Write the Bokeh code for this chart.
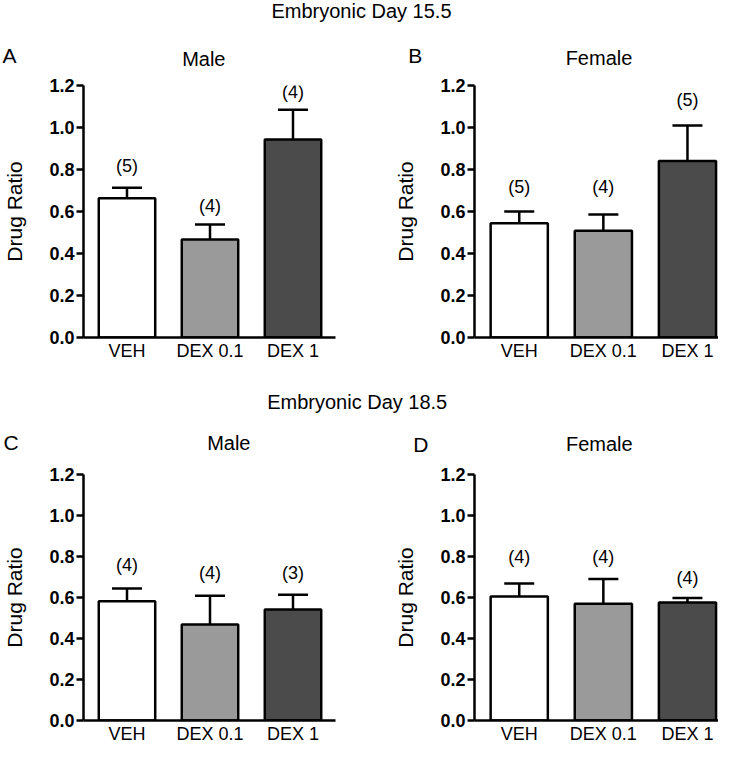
from bokeh.plotting import figure
from bokeh.models import (Range1d, FixedTicker, Whisker, TeeHead,
                          ColumnDataSource, PrintfTickFormatter)
from bokeh.layouts import column, row
from bokeh.embed import file_html
from bokeh.resources import INLINE
from bokeh.core.properties import value

# ---------------- data ----------------
groups = ["VEH", "DEX 0.1", "DEX 1"]
y_ticks = [0.0, 0.2, 0.4, 0.6, 0.8, 1.0, 1.2]

e155_male_mean = [0.663, 0.467, 0.943]
e155_male_sem = [0.050, 0.071, 0.141]
e155_male_n = [5, 4, 4]

e155_female_mean = [0.544, 0.508, 0.840]
e155_female_sem = [0.056, 0.078, 0.170]
e155_female_n = [5, 4, 5]

e185_male_mean = [0.582, 0.468, 0.541]
e185_male_sem = [0.062, 0.140, 0.072]
e185_male_n = [4, 4, 3]

e185_female_mean = [0.605, 0.570, 0.576]
e185_female_sem = [0.063, 0.120, 0.021]
e185_female_n = [4, 4, 4]

# ---------------- style / layout ----------------
FONT = "Liberation Sans"
bar_colors = ["#ffffff", "#9a9a9a", "#4b4b4b"]
LW = 2.5
TEXT_BASE = "middle"


def make_panel(mean, sem, n, n_label_y, left, height, b_top, b_bottom):
    if left:
        width, b_left, b_right, xr = 359, 80, 24, (-0.524, 2.512)
    else:
        width, b_left, b_right, xr = 359, 115, 0, (-0.532, 2.369)
    p = figure(width=width, height=height, x_range=Range1d(*xr),
               y_range=Range1d(0, 1.2), output_backend="svg",
               toolbar_location=None, min_border_left=b_left,
               min_border_right=b_right, min_border_top=b_top,
               min_border_bottom=b_bottom)
    p.outline_line_color = None
    p.grid.visible = False
    p.background_fill_color = "white"
    p.border_fill_color = "white"

    xs = list(range(len(groups)))
    src = ColumnDataSource(dict(
        x=xs, top=mean, upper=[m + s for m, s in zip(mean, sem)],
        color=bar_colors, lab=["(%d)" % k for k in n], ly=n_label_y))

    w = Whisker(source=src, base="x", lower="top", upper="upper",
                line_width=LW, line_color="black",
                upper_head=TeeHead(size=30, line_width=LW, line_color="black"),
                lower_head=None)
    p.add_layout(w)
    p.vbar(x="x", top="top", bottom=0, width=0.68, source=src,
           fill_color="color", line_color="black", line_width=LW)
    p.text(x="x", y="ly", text="lab", source=src, text_align="center",
           text_baseline=TEXT_BASE, text_font=value(FONT),
           text_font_size="18px", text_color="black")

    ya = p.yaxis[0]
    ya.ticker = FixedTicker(ticks=y_ticks)
    ya.formatter = PrintfTickFormatter(format="%.1f")
    ya.minor_tick_line_color = None
    ya.major_tick_in = 0
    ya.major_tick_out = 7
    ya.major_tick_line_width = LW
    ya.axis_line_width = LW
    ya.major_label_text_font = FONT
    ya.major_label_text_font_style = "bold"
    ya.major_label_text_font_size = "18px"
    ya.major_label_text_color = "black"
    ya.major_label_standoff = 2
    ya.axis_label = "Drug Ratio"
    ya.axis_label_text_font = FONT
    ya.axis_label_text_font_style = "normal"
    ya.axis_label_text_font_size = "21px"
    ya.axis_label_text_color = "black"
    ya.axis_label_standoff = 20

    xa = p.xaxis[0]
    xa.ticker = FixedTicker(ticks=xs)
    xa.major_label_overrides = {i: g for i, g in zip(xs, groups)}
    xa.minor_tick_line_color = None
    xa.major_tick_in = 0
    xa.major_tick_out = 0
    xa.axis_line_width = LW
    xa.major_label_text_font = FONT
    xa.major_label_text_font_size = "18px"
    xa.major_label_text_color = "black"
    xa.major_label_standoff = 3
    return p


def header(height, texts, xs, ys, sizes, aligns):
    h = figure(width=718, height=height, x_range=Range1d(0, 718),
               y_range=Range1d(0, height), output_backend="svg",
               toolbar_location=None, x_axis_location=None,
               y_axis_location=None, min_border=0)
    h.outline_line_color = None
    h.grid.visible = False
    src = ColumnDataSource(dict(t=texts, x=xs, y=ys, s=sizes, a=aligns))
    h.text(x="x", y="y", text="t", source=src, text_align="a",
           text_baseline=TEXT_BASE, text_font=value(FONT),
           text_font_size="s", text_color="black")
    return h


h1 = header(70,
            ["Embryonic Day 15.5", "A", "Male", "B", "Female"],
            [361, 2, 203.3, 407.7, 598.5],
            [59.7, 15, 12, 15, 12.5],
            ["20px", "21px", "20px", "21px", "20px"],
            ["center", "left", "center", "left", "center"])
pA = make_panel(e155_male_mean, e155_male_sem, e155_male_n,
                [0.819, 0.625, 1.168], True, 320, 15, 53)
pB = make_panel(e155_female_mean, e155_female_sem, e155_female_n,
                [0.716, 0.716, 1.129], False, 320, 15, 53)
h2 = header(72,
            ["Embryonic Day 18.5", "C", "Male", "D", "Female"],
            [356.7, 3, 228.3, 412.7, 598.8],
            [60.3, 20, 20, 18.5, 19],
            ["20px", "21px", "20px", "21px", "20px"],
            ["center", "left", "center", "left", "center"])
pC = make_panel(e185_male_mean, e185_male_sem, e185_male_n,
                [0.757, 0.718, 0.718], True, 284, 12, 26)
pD = make_panel(e185_female_mean, e185_female_sem, e185_female_n,
                [0.797, 0.797, 0.694], False, 284, 12, 26)

layout = column(h1, row(pA, pB), h2, row(pC, pD))
open("out.html", "w").write(file_html(layout, INLINE))
